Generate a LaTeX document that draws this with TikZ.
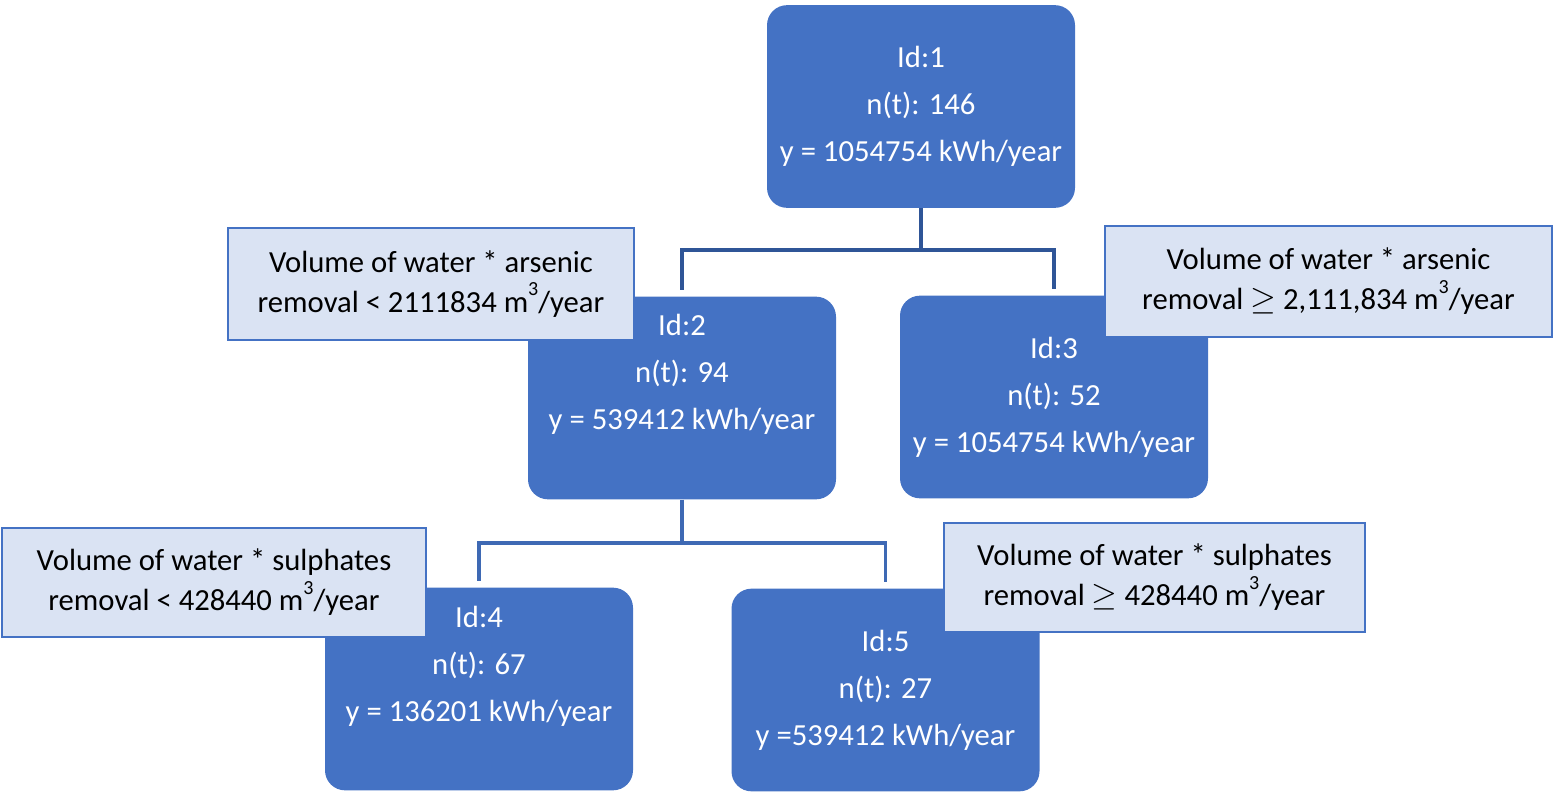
\documentclass[tikz,border=0pt]{standalone}
\usepackage{fontspec}
\setmainfont{Carlito}
\definecolor{nodeblue}{HTML}{4472C4}
\definecolor{notefill}{HTML}{DAE3F3}
\definecolor{linkblue}{HTML}{2F5597}
\newcommand{\cubic}{m\raisebox{0.55em}{\fontsize{15}{15}\selectfont 3}}

\begin{document}
\begin{tikzpicture}[x=0.75pt,y=-0.75pt,
	leaf/.style={rectangle,rounded corners=15pt,fill=nodeblue,minimum width=231pt,minimum height=152pt},
	leaftext/.style={text=white,align=center,font=\fontsize{23}{35.25}\selectfont},
	split/.style={rectangle,draw=nodeblue,line width=1.5pt,fill=notefill,align=center,inner sep=0pt,font=\fontsize{23}{30}\selectfont},
	link/.style={line width=2.75pt,shorten >=5pt}]
	\useasboundingbox (0,0) rectangle (1553,796);
	\node[leaf] (id1) at (921,106.5) {};
	\node[leaf] (id2) at (682,398) {};
	\node[leaf] (id3) at (1054,397) {};
	\node[leaf] (id4) at (479,689) {};
	\node[leaf] (id5) at (885.5,690) {};
	\node[leaftext] (id1txt) at (id1) {Id:1\\n(t): 146\\y = 1054754 kWh/year};
	\node[leaftext] (id2txt) at ([yshift=18pt]id2.center) {Id:2\\n(t): 94\\y = 539412 kWh/year};
	\node[leaftext] (id3txt) at (id3) {Id:3\\n(t): 52\\y = 1054754 kWh/year};
	\node[leaftext] (id4txt) at ([yshift=17pt]id4.center) {Id:4\\n(t): 67\\y = 136201 kWh/year};
	\node[leaftext] (id5txt) at (id5) {Id:5\\n(t): 27\\y =539412 kWh/year};
	\coordinate (fork1) at (921,250);
	\coordinate (fork2) at (682,543);
	\draw[link,linkblue] (id1) -- (fork1) -| (id2);
	\draw[link,linkblue] (fork1) -| (id3);
	\draw[link,nodeblue!92!black] (id2) -- (fork2) -| (id4);
	\draw[link,nodeblue!92!black] (fork2) -| (id5);
	\node[split,minimum width=304.5pt,minimum height=84pt] (cond2) at (431,284) {Volume of water * arsenic\\removal < 2111834 \cubic/year};
	\node[split,minimum width=335.25pt,minimum height=83.25pt] (cond3) at (1328.5,281.5) {Volume of water * arsenic\\removal $\geq$ 2,111,834 \cubic/year};
	\node[split,minimum width=318pt,minimum height=81.75pt] (cond4) at (214,582.5) {Volume of water * sulphates\\removal < 428440 \cubic/year};
	\node[split,minimum width=315.75pt,minimum height=81.75pt] (cond5) at (1154.5,577.5) {Volume of water * sulphates\\removal $\geq$ 428440 \cubic/year};
\end{tikzpicture}
\end{document}
